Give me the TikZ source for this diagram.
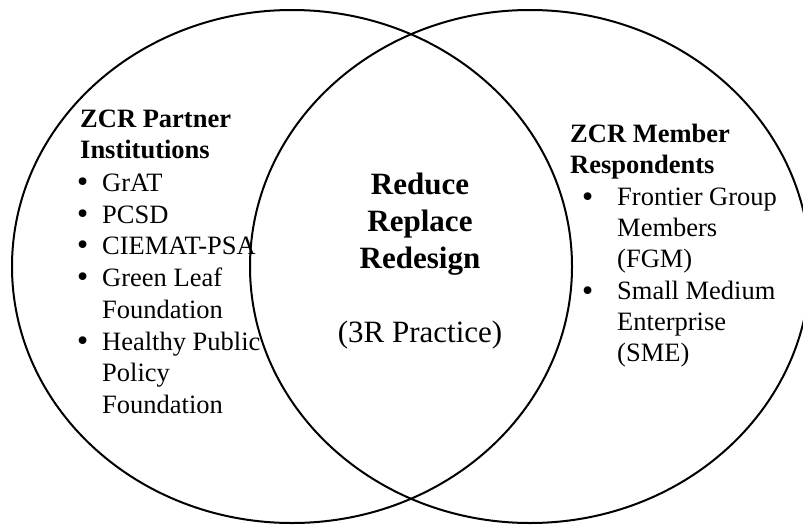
\documentclass[tikz,border=0pt]{standalone}
\usepackage{fontspec}
\setmainfont{Liberation Serif}
\newfontfamily\dotfont{DejaVu Sans}
% a list item's bullet, hung to the left of the item text
\newcommand{\itemdot}[2]{\llap{\raisebox{#2}{\makebox[#1][c]{\dotfont •}}}}
\begin{document}
\begin{tikzpicture}[x=1pt,y=-1pt,
  ring/.style={draw=black,line width=2pt},
  sidetext/.style={inner sep=0pt,anchor=base west,font=\fontsize{26.5}{31.7}\selectfont},
  sidehead/.style={sidetext,font=\fontsize{26.5}{31.7}\selectfont\bfseries},
  core/.style={inner sep=0pt,anchor=base,font=\fontsize{31}{37}\selectfont\bfseries},
  corenote/.style={inner sep=0pt,anchor=base,font=\fontsize{31}{37}\selectfont}]
\useasboundingbox (0,0) rectangle (803,525);
\clip (0,0) rectangle (803,525);

% the two overlapping sets
\draw[ring] (292,266.5) ellipse [x radius=280pt, y radius=256.5pt];
\draw[ring] (530,266.5) ellipse [x radius=280pt, y radius=256.5pt];

% left set: partner institutions
\node[sidehead] (lh1) at (80,127) {ZCR Partner};
\node[sidehead] (lh2) at (80,158) {Institutions};
\node[sidetext] (l1) at (102,191.5) {\itemdot{39pt}{0pt}GrAT};
\node[sidetext] (l2) at (102,223.2) {\itemdot{39pt}{0pt}PCSD};
\node[sidetext] (l3) at (102,254.9) {\itemdot{39pt}{0pt}CIEMAT-PSA};
\node[sidetext] (l4a) at (102,286.6) {\itemdot{39pt}{0pt}Green Leaf};
\node[sidetext] (l4b) at (102,318.3) {Foundation};
\node[sidetext] (l5a) at (102,350) {\itemdot{39pt}{0pt}Healthy Public};
\node[sidetext] (l5b) at (102,381.7) {Policy};
\node[sidetext] (l5c) at (102,413.4) {Foundation};

% overlap: the 3R practice
\node[core] (c1) at (420,194) {Reduce};
\node[core] (c2) at (420,231) {Replace};
\node[core] (c3) at (420,268) {Redesign};
\node[corenote] (c4) at (420,342.5) {(3R Practice)};

% right set: member respondents
\node[sidehead] (rh1) at (570,142) {ZCR Member};
\node[sidehead] (rh2) at (570,173) {Respondents};
\node[sidetext] (r1a) at (617,205) {\itemdot{59pt}{-1pt}Frontier Group};
\node[sidetext] (r1b) at (617,236) {Members};
\node[sidetext] (r1c) at (617,267) {(FGM)};
\node[sidetext] (r2a) at (617,299) {\itemdot{59pt}{-1pt}Small Medium};
\node[sidetext] (r2b) at (617,330) {Enterprise};
\node[sidetext] (r2c) at (617,361) {(SME)};
\end{tikzpicture}
\end{document}
